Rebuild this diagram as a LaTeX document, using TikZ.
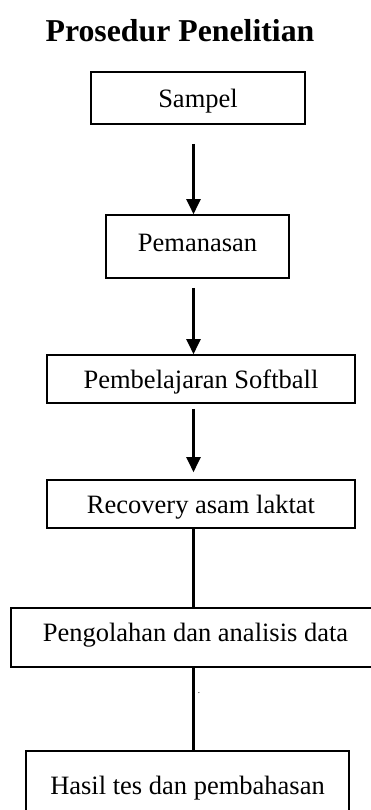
\documentclass[tikz,border=0pt]{standalone}
\usepackage{fontspec}
\setmainfont{Liberation Serif}
\usepackage{tikz}
\usetikzlibrary{
  arrows.meta,
  positioning,
  calc
}
\tikzset{
  stepbox/.style={
    rectangle, draw=black, line width=1.6pt, inner sep=0pt,
    font=\fontsize{26.5}{30}\selectfont, text centered,
    text height=18.5pt, text depth=0pt
  },
  arrow/.style={-{Triangle[length=15pt, width=14pt]}, line width=2.1pt},
  link/.style={line width=2.1pt},
}

\begin{document}
\begin{tikzpicture}[
  x=1pt, y=-1pt,
  heading/.style={font=\fontsize{31.8}{36}\selectfont\bfseries, anchor=base, inner sep=0pt},
]

\path[use as bounding box, clip] (0,0) rectangle (371,810);

\node[heading] (title) at (180,41.7) {Prosedur Penelitian};

\node[stepbox, minimum width=214pt, minimum height=52pt] (sampel) at (198,98) {Sampel};
\node[stepbox, minimum width=183pt, minimum height=63pt, text depth=8.5pt] (pemanasan) at (197.5,246.5) {Pemanasan};
\node[stepbox, minimum width=308pt, minimum height=48pt] (softball) at (201,379) {Pembelajaran Softball};
\node[stepbox, minimum width=308pt, minimum height=48pt] (recovery) at (201,504) {Recovery asam laktat};
\node[stepbox, minimum width=369pt, minimum height=59pt, text depth=10.5pt] (olah) at (195.5,637.5) {Pengolahan dan analisis data};
\node[stepbox, minimum width=323pt, minimum height=68pt] (hasil) at (187.5,785) {Hasil tes dan pembahasan};

\coordinate (spine) at (193.5,0);

\draw[arrow, shorten <=19pt] (sampel.south -| spine) -- (pemanasan.north -| spine);
\draw[arrow, shorten <=9pt] (pemanasan.south -| spine) -- (softball.north -| spine);
\draw[arrow, shorten <=5pt, shorten >=7pt] (softball.south -| spine) -- (recovery.north -| spine);
\draw[link] (recovery.south -| spine) -- (olah.north -| spine);
\draw[link] (olah.south -| spine) -- (hasil.north -| spine);

% stray dot beside the last line
\node[font=\small, inner sep=0pt] (dot) at (199,693) {.};

\end{tikzpicture}
\end{document}
